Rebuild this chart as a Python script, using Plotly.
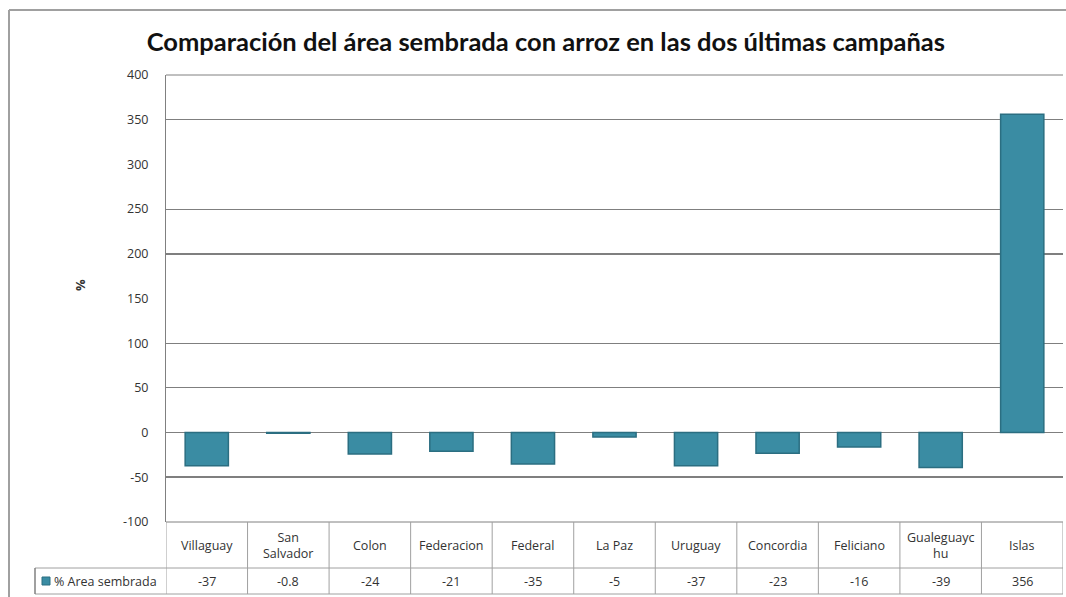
import plotly.graph_objects as go

categories = ["Villaguay", "San<br>Salvador", "Colon", "Federacion", "Federal", "La Paz",
              "Uruguay", "Concordia", "Feliciano", "Gualeguayc<br>hu", "Islas"]
values = [-37, -0.8, -24, -21, -35, -5, -37, -23, -16, -39, 356]
value_labels = ["-37", "-0.8", "-24", "-21", "-35", "-5", "-37", "-23", "-16", "-39", "356"]
series_name = "% Area sembrada"
title_text = "Comparación del área sembrada con arroz en las dos últimas campañas"
y_ticks = [-100, -50, 0, 50, 100, 150, 200, 250, 300, 350, 400]
y_tick_text = ["-100", "-50", "0", "50", "100", "150", "200", "250", "300", "350", "400"]
grid_vals = [350, 250, 100, 50, 0]
grid_vals_bold = [200, -50]

W, H = 1066, 597
L, R, T, B = 166, 3, 75, 75
plot_w = W - L - R
plot_h = H - T - B

def py(px):  # pixel y -> paper y
    return (H - B - px) / plot_h

def pxx(px):  # pixel x -> paper x
    return (px - L) / plot_w

BAR = "#3A8CA3"
EDGE = "#2B6E81"
FONT = "Open Sans"
xs = list(range(len(categories)))

fig = go.Figure()
# invisible traces for grid axes
fig.add_trace(go.Scatter(x=[xs[0]], y=[0], yaxis="y2", mode="markers",
                         marker=dict(opacity=0), showlegend=False, hoverinfo="skip"))
fig.add_trace(go.Scatter(x=[xs[0]], y=[0], yaxis="y3", mode="markers",
                         marker=dict(opacity=0), showlegend=False, hoverinfo="skip"))
fig.add_trace(go.Bar(
    x=xs, y=values, width=0.53, name=series_name,
    marker=dict(color=BAR, line=dict(color=EDGE, width=1.5)),
    yaxis="y", showlegend=False,
))

fig.update_layout(
    width=W, height=H,
    margin=dict(l=L, r=R, t=T, b=B),
    paper_bgcolor="white", plot_bgcolor="rgba(0,0,0,0)",
    font=dict(family=FONT, size=12, color="#333333"),
    title=dict(text="<b>" + title_text + "</b>", x=0.512, xanchor="center",
               y=1 - 42 / H, yanchor="middle", yref="container",
               font=dict(family="Lato", size=25.5, color="#111111")),
    xaxis=dict(range=[-0.5, len(categories) - 0.5], showticklabels=False,
               showgrid=False, zeroline=False, showline=False, fixedrange=True),
    yaxis=dict(range=[-100, 400], tickvals=y_ticks, ticktext=y_tick_text, showgrid=False,
               zeroline=False, showline=True, linecolor="#808080", linewidth=1, ticks="",
               ticklabelstandoff=14, tickfont=dict(family=FONT, size=12.5, color="#333333")),
    yaxis2=dict(range=[-100, 400], overlaying="y", tickvals=grid_vals, showgrid=True,
                gridcolor="#7f7f7f", gridwidth=1, showticklabels=False, zeroline=False,
                showline=False),
    yaxis3=dict(range=[-100, 400], overlaying="y", tickvals=grid_vals_bold, showgrid=True,
                gridcolor="#7f7f7f", gridwidth=2, showticklabels=False, zeroline=False,
                showline=False),
    bargap=0.47,
)

shapes = []
line = dict(color="#a0a0a0", width=1)
# top plot border line (400)
shapes.append(dict(type="line", xref="paper", yref="paper", x0=0, x1=1, y0=1, y1=1,
                   line=dict(color="#808080", width=1)))
# outer frame
shapes.append(dict(type="line", xref="paper", yref="paper", x0=pxx(9), x1=pxx(9),
                   y0=py(10), y1=py(597), line=dict(color="#a0a0a0", width=2)))
shapes.append(dict(type="line", xref="paper", yref="paper", x0=pxx(9), x1=pxx(1066),
                   y0=py(10), y1=py(10), line=dict(color="#a0a0a0", width=2)))
# table
y_top, y_mid, y_bot = py(522), py(568), py(594)
shapes.append(dict(type="line", xref="paper", yref="paper", x0=0, x1=1, y0=y_top, y1=y_top,
                   line=dict(color="#808080", width=1)))
shapes.append(dict(type="line", xref="paper", yref="paper", x0=pxx(35), x1=1, y0=y_mid, y1=y_mid, line=line))
shapes.append(dict(type="line", xref="paper", yref="paper", x0=pxx(35), x1=1, y0=y_bot, y1=y_bot, line=line))
shapes.append(dict(type="line", xref="paper", yref="paper", x0=pxx(35), x1=pxx(35), y0=y_mid, y1=y_bot,
                   line=dict(color="#808080", width=1.5)))
for i in range(len(categories) + 1):
    shapes.append(dict(type="line", xref="x", yref="paper", x0=i - 0.5, x1=i - 0.5,
                       y0=y_top, y1=y_bot, line=line))
# legend key square
shapes.append(dict(type="rect", xref="paper", yref="paper", x0=pxx(42), x1=pxx(50),
                   y0=py(585), y1=py(577), fillcolor=BAR, line=dict(color=EDGE, width=1)))

annotations = []
for i, (c, v) in enumerate(zip(categories, value_labels)):
    annotations.append(dict(x=i, y=(y_top + y_mid) / 2, xref="x", yref="paper", text=c,
                            showarrow=False, font=dict(family=FONT, size=12.5, color="#333333"),
                            xanchor="center", yanchor="middle"))
    annotations.append(dict(x=i, y=(y_mid + y_bot) / 2, xref="x", yref="paper", text=v,
                            showarrow=False, font=dict(family=FONT, size=12.5, color="#333333"),
                            xanchor="center", yanchor="middle"))
annotations.append(dict(x=pxx(52), y=(y_mid + y_bot) / 2, xref="paper", yref="paper",
                        text=series_name, showarrow=False, xanchor="left", yanchor="middle",
                        font=dict(family=FONT, size=12.5, color="#333333")))
annotations.append(dict(x=pxx(80), y=py(285), xref="paper", yref="paper", text="<b>%</b>",
                        showarrow=False, textangle=-90, xanchor="center", yanchor="middle",
                        font=dict(family=FONT, size=13, color="#333333")))

fig.update_layout(shapes=shapes, annotations=annotations)
fig.write_html("out.html", config={"displayModeBar": False},
               post_script="document.body.style.margin='0';document.body.style.overflow='hidden';")
